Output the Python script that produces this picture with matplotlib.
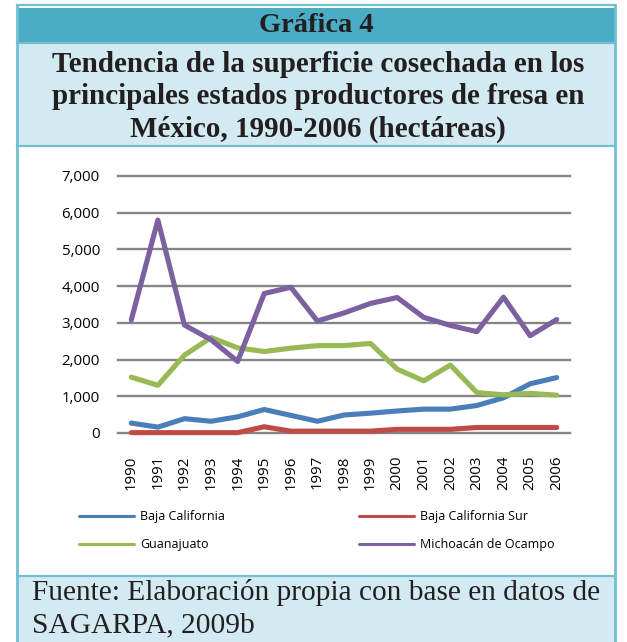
import matplotlib
matplotlib.use("Agg")
import matplotlib.pyplot as plt
from matplotlib.patches import Rectangle
from matplotlib.ticker import FuncFormatter

years = [str(y) for y in range(1990, 2007)]
baja_california = [270, 160, 390, 320, 440, 640, 480, 320, 490, 540, 600, 650, 650, 750, 960, 1340, 1510]
baja_california_sur = [10, 10, 10, 10, 10, 170, 50, 50, 50, 50, 100, 100, 100, 150, 150, 150, 150]
guanajuato = [1520, 1300, 2120, 2600, 2320, 2220, 2310, 2380, 2380, 2440, 1740, 1420, 1850, 1100, 1040, 1080, 1030]
michoacan = [3080, 5800, 2940, 2540, 1950, 3800, 3970, 3050, 3270, 3530, 3690, 3150, 2930, 2760, 3700, 2650, 3090]

series_names = ["Baja California", "Baja California Sur", "Guanajuato", "Michoacán de Ocampo"]
series_colors = ["#4A7EBB", "#BE4B48", "#98B954", "#7D60A0"]

header_text = "Gráfica 4"
title_text = ("Tendencia de la superficie cosechada en los\n"
              "principales estados productores de fresa en\n"
              "México, 1990-2006 (hectáreas)")
source_lines = ["Fuente: Elaboración propia con base en datos de", "SAGARPA, 2009b"]

W, H = 627, 642
fig = plt.figure(figsize=(W / 100, H / 100), dpi=100)

# background panel drawn in pixel coordinates
bg = fig.add_axes([0, 0, 1, 1])
bg.set_xlim(0, W)
bg.set_ylim(H, 0)
bg.axis("off")

border = "#72BFD3"
bg.add_patch(Rectangle((17, 8), 598, 34, facecolor="#4BACC6", edgecolor="none"))
bg.add_patch(Rectangle((17, 43), 598, 103, facecolor="#D3EAF2", edgecolor="none"))
bg.add_patch(Rectangle((17, 576), 598, 70, facecolor="#D3EAF2", edgecolor="none"))
for y in (5, 42.5, 146, 576):
    bg.plot([17, 615], [y, y], color=border, lw=1.6)
bg.plot([17, 17], [5, H], color=border, lw=2)
bg.plot([615, 615], [5, H], color=border, lw=2)

serif = "Liberation Serif"
bg.text(316, 26, header_text, ha="center", va="center", fontsize=20.5,
        fontweight="bold", family=serif, color="#231F20")
bg.text(318, 97, title_text, ha="center", va="center", fontsize=21,
        fontweight="bold", family=serif, color="#231F20", linespacing=1.27)
bg.text(32, 592, source_lines[0], ha="left", va="center", fontsize=21.2,
        family=serif, color="#231F20")
bg.text(32, 625, source_lines[1], ha="left", va="center", fontsize=21.2,
        family=serif, color="#231F20")

# chart area
ax = fig.add_axes([118 / W, 1 - 433 / H, (570 - 118) / W, (433 - 176) / H])
x = list(range(len(years)))
lines = []
for vals, name, col in zip([baja_california, baja_california_sur, guanajuato, michoacan],
                           series_names, series_colors):
    ln, = ax.plot(x, vals, color=col, lw=3.7, label=name, clip_on=False,
                  solid_joinstyle="round", solid_capstyle="round", zorder=3)
    lines.append(ln)

ax.set_xlim(-0.5, len(years) - 0.5)
ax.set_ylim(0, 7000)
ax.set_yticks(range(0, 7001, 1000))
ax.yaxis.set_major_formatter(FuncFormatter(lambda v, p: f"{v:,.0f}"))
ax.set_xticks(x)
ax.set_xticklabels(years, rotation=90, va="top", ha="center")
ax.grid(axis="y", color="#858585", lw=1.7)
for gl in ax.get_ygridlines():
    gl.set_clip_on(False)
ax.set_axisbelow(True)
for s in ax.spines.values():
    s.set_visible(False)
ax.tick_params(length=0, labelsize=10.8, colors="#000000")
ax.tick_params(axis="y", pad=13)
ax.tick_params(axis="x", pad=16)
for lab in ax.get_xticklabels() + ax.get_yticklabels():
    lab.set_family("Open Sans")

leg_kw = dict(frameon=False, handlelength=4.4, handletextpad=0.5,
              labelspacing=1.2, borderpad=0, borderaxespad=0,
              prop={"family": "Open Sans", "size": 9})
leg1 = fig.legend([lines[0], lines[2]], [series_names[0], series_names[2]],
                  loc="upper left", bbox_to_anchor=(79 / W, 1 - 510 / H), **leg_kw)
leg2 = fig.legend([lines[1], lines[3]], [series_names[1], series_names[3]],
                  loc="upper left", bbox_to_anchor=(359 / W, 1 - 510 / H), **leg_kw)
for lg in (leg1, leg2):
    for hl in lg.get_lines():
        hl.set_linewidth(2.2)

fig.savefig("out.png", dpi=100)
